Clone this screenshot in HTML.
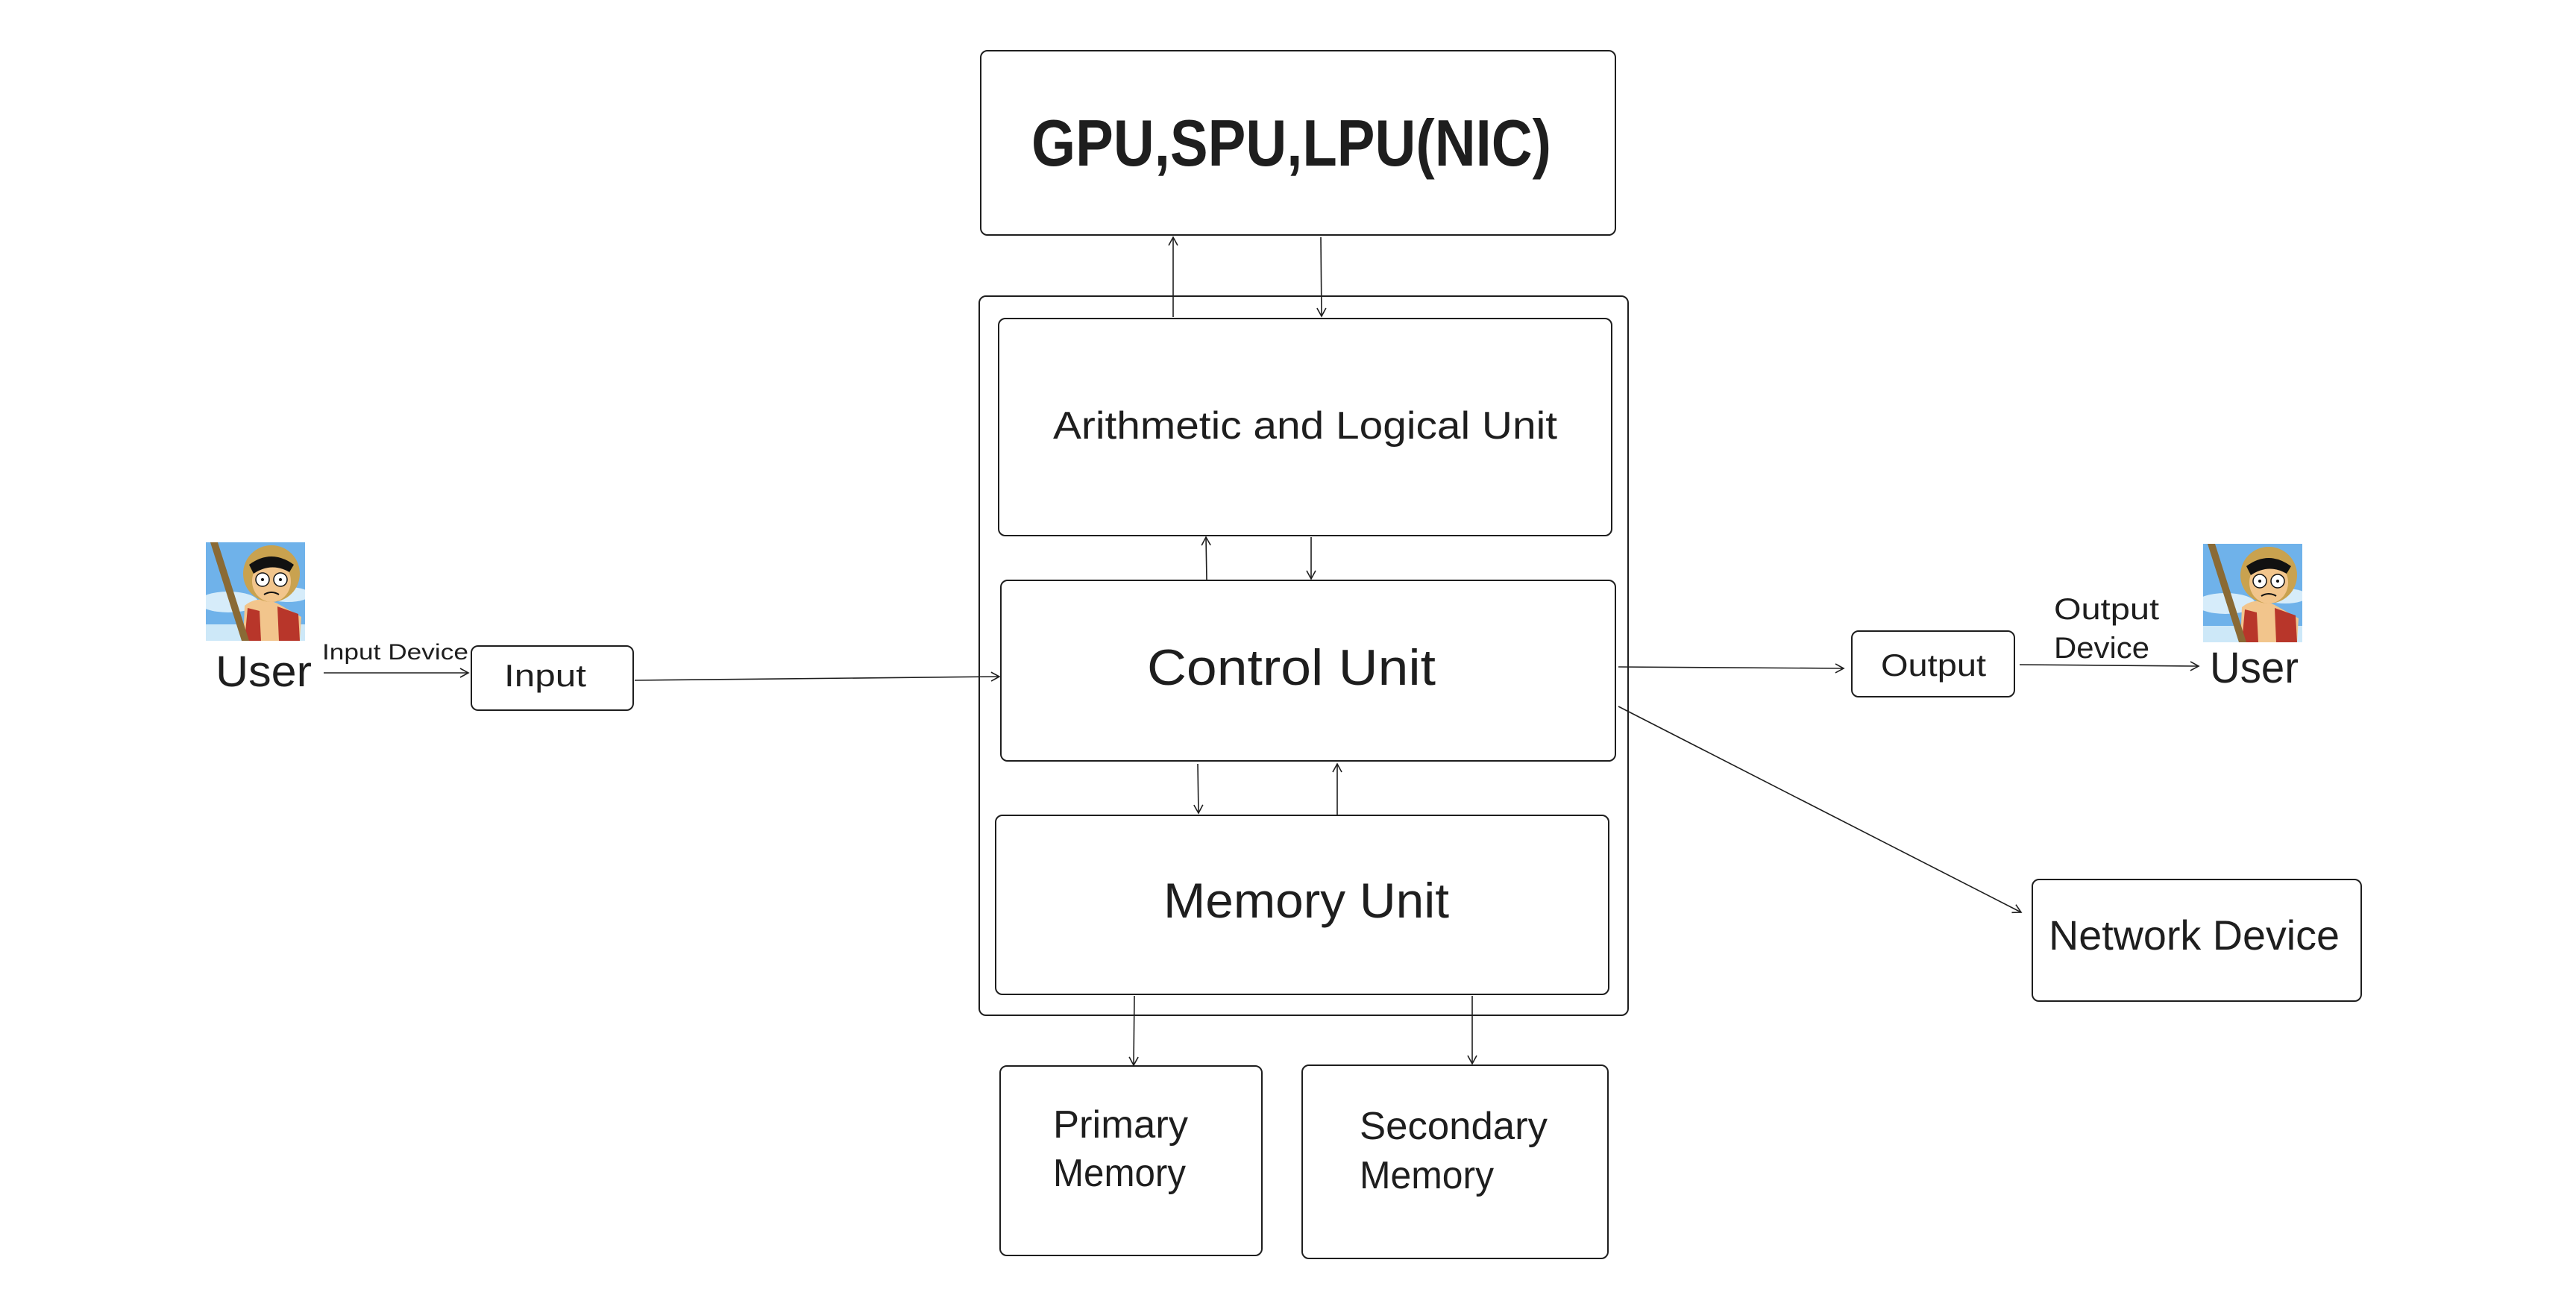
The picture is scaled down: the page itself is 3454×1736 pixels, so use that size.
<!DOCTYPE html>
<html><head><meta charset="utf-8"><style>
html,body{margin:0;padding:0;background:#fff;}
svg{display:block;}
text{font-family:"Liberation Sans",sans-serif;fill:#1e1e1e;}
</style></head><body>
<svg width="3454" height="1736" viewBox="0 0 3454 1736" xmlns="http://www.w3.org/2000/svg">
<defs>
<marker id="a" markerWidth="14" markerHeight="14" refX="12" refY="7" orient="auto" markerUnits="userSpaceOnUse">
<path d="M1,1 L12,7 L1,13" fill="none" stroke="#1e1e1e" stroke-width="1.6"/>
</marker>
<clipPath id="c"><rect x="0" y="0" width="133" height="132"/></clipPath>
<g id="luffy" clip-path="url(#c)">
<rect x="0" y="0" width="133" height="132" fill="#6fb2ea"/>
<ellipse cx="30" cy="80" rx="40" ry="14" fill="#d6ecfa"/>
<ellipse cx="110" cy="70" rx="30" ry="10" fill="#d6ecfa"/>
<rect x="0" y="110" width="133" height="22" fill="#cde8f8"/>
<path d="M50,132 L52,85 Q70,70 96,82 L128,100 L126,132 Z" fill="#f2c58c"/>
<path d="M52,132 L56,88 L72,92 L74,132 Z" fill="#b8362a"/>
<path d="M98,132 L96,86 L124,96 L126,132 Z" fill="#b8362a"/>
<circle cx="88" cy="42" r="38" fill="#c9a24f"/>
<ellipse cx="88" cy="52" rx="26" ry="28" fill="#f2c58c"/>
<path d="M58,30 Q88,8 118,30 L112,40 Q88,26 64,42 Z" fill="#111"/>
<circle cx="76" cy="50" r="9" fill="#fff" stroke="#111" stroke-width="1.5"/>
<circle cx="100" cy="50" r="9" fill="#fff" stroke="#111" stroke-width="1.5"/>
<circle cx="76" cy="50" r="2" fill="#111"/><circle cx="100" cy="50" r="2" fill="#111"/>
<path d="M78,70 Q88,64 98,70" fill="none" stroke="#111" stroke-width="2"/>
<path d="M6,0 L16,0 L58,132 L48,132 Z" fill="#8a6a35"/>
</g>
</defs>
<g fill="none" stroke="#1e1e1e" stroke-width="2">
<rect x="1315" y="68" width="851" height="247" rx="9"/>
<rect x="1313" y="397" width="870" height="964" rx="9"/>
<rect x="1339" y="427" width="822" height="291" rx="9"/>
<rect x="1342" y="778" width="824" height="242" rx="9"/>
<rect x="1335" y="1093" width="822" height="240" rx="9"/>
<rect x="1341" y="1429" width="351" height="254" rx="9"/>
<rect x="1746" y="1428" width="410" height="259" rx="9"/>
<rect x="632" y="866" width="217" height="86" rx="9"/>
<rect x="2483" y="846" width="218" height="88" rx="9"/>
<rect x="2725" y="1179" width="441" height="163" rx="9"/>
</g>
<g stroke="#1e1e1e" stroke-width="1.6" fill="none" marker-end="url(#a)">
<line x1="1573" y1="425" x2="1573" y2="318"/>
<line x1="1771" y1="318" x2="1772" y2="424"/>
<line x1="1618" y1="777" x2="1617" y2="720"/>
<line x1="1758" y1="720" x2="1758" y2="776"/>
<line x1="1606" y1="1024" x2="1607" y2="1090"/>
<line x1="1793" y1="1093" x2="1793" y2="1024"/>
<line x1="1521" y1="1335" x2="1520" y2="1428"/>
<line x1="1974" y1="1335" x2="1974" y2="1426"/>
<line x1="434" y1="902" x2="628" y2="902"/>
<line x1="851" y1="912" x2="1340" y2="907"/>
<line x1="2170" y1="894" x2="2472" y2="896"/>
<line x1="2708" y1="891" x2="2948" y2="893"/>
<line x1="2170" y1="947" x2="2710" y2="1223"/>
</g>
<use href="#luffy" x="276" y="727"/>
<use href="#luffy" x="2954" y="729"/>
<text x="1383" y="222" font-size="88" font-weight="600" textLength="697" lengthAdjust="spacingAndGlyphs">GPU,SPU,LPU(NIC)</text>
<text x="1412" y="588" font-size="52" textLength="676" lengthAdjust="spacingAndGlyphs">Arithmetic and Logical Unit</text>
<text x="1538" y="918" font-size="68" textLength="387" lengthAdjust="spacingAndGlyphs">Control Unit</text>
<text x="1560" y="1230" font-size="66" textLength="383" lengthAdjust="spacingAndGlyphs">Memory Unit</text>
<text x="1412" y="1525" font-size="52" textLength="181" lengthAdjust="spacingAndGlyphs">Primary</text>
<text x="1412" y="1590" font-size="52" textLength="178" lengthAdjust="spacingAndGlyphs">Memory</text>
<text x="1823" y="1527" font-size="52" textLength="252" lengthAdjust="spacingAndGlyphs">Secondary</text>
<text x="1823" y="1593" font-size="52" textLength="180" lengthAdjust="spacingAndGlyphs">Memory</text>
<text x="2747" y="1273" font-size="56" textLength="390" lengthAdjust="spacingAndGlyphs">Network Device</text>
<text x="2522" y="906" font-size="42" textLength="141" lengthAdjust="spacingAndGlyphs">Output</text>
<text x="676" y="920" font-size="42" textLength="110" lengthAdjust="spacingAndGlyphs">Input</text>
<text x="289" y="920" font-size="58" textLength="129" lengthAdjust="spacingAndGlyphs">User</text>
<text x="2963" y="915" font-size="58" textLength="119" lengthAdjust="spacingAndGlyphs">User</text>
<text x="432" y="884" font-size="30" textLength="196" lengthAdjust="spacingAndGlyphs">Input Device</text>
<text x="2754" y="830" font-size="40" textLength="141" lengthAdjust="spacingAndGlyphs">Output</text>
<text x="2754" y="882" font-size="40" textLength="128" lengthAdjust="spacingAndGlyphs">Device</text>
</svg>
</body></html>
